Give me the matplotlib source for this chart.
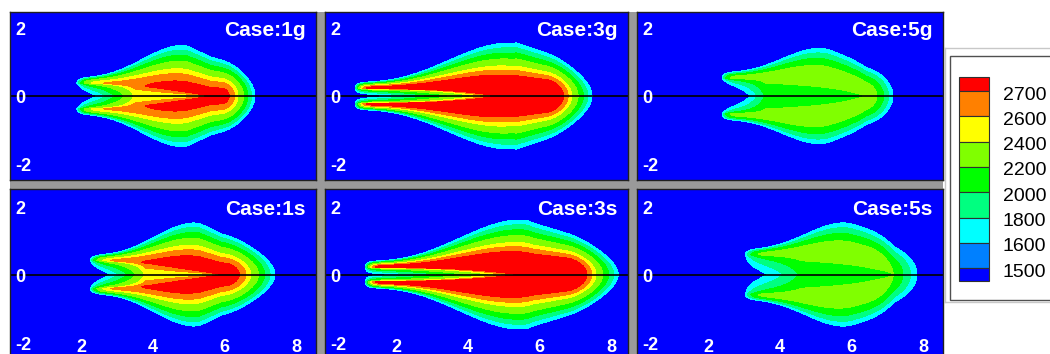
import numpy as np
import matplotlib
matplotlib.use("Agg")
import matplotlib.pyplot as plt
from matplotlib.patches import Rectangle

plt.rcParams['font.family'] = ['Liberation Sans', 'DejaVu Sans']

# casos: fila de arriba y fila de abajo
casos = ["1g", "3g", "5g", "1s", "3s", "5s"]

# forma de cada llama (unidades de los ejes)
x_inicio = [1.87, 0.84, 2.38, 2.24, 1.12, 3.02]   # punta izquierda de los lobulos
y_lobulo = [0.38, 0.22, 0.52, 0.41, 0.21, 0.58]   # separacion de los lobulos
p_union = [2, 3, 4, 2, 3, 4]
x_union = [5.6, 5.2, 6.4, 5.9, 5.8, 7.2]          # donde se juntan los lobulos
x_ancho = [4.95, 5.37, 5.30, 5.31, 5.65, 5.96]    # x del ancho maximo
w_max = [1.47, 1.56, 1.38, 1.50, 1.59, 1.50]      # semi-ancho maximo
x_punta = [6.85, 7.47, 7.16, 7.41, 8.20, 7.83]    # punta derecha sobre el eje
x_caida = [5.93, 6.18, 6.28, 6.01, 6.75, 6.52]    # empieza a enfriarse hacia la punta
k_cabeza = [0.30, 0.36, 0.14, 0.30, 0.32, 0.09]   # estrechamiento de la cabeza
dT_max = [1050, 1170, 790, 1090, 1190, 790]       # T maxima - 1800
f_lobulo = [0.85, 0.92, 0.90, 0.85, 0.92, 0.90]   # fraccion de dT_max en los lobulos
l_subida = [0.18, 0.12, 0.12, 0.18, 0.12, 0.20]
x_muesca = [2.43, 1.80, 3.16, 2.80, 1.82, 3.64]   # fin de la muesca azul sobre el eje
x_eje = [3.5, 4.8, 3.6, 3.8, 5.4, 4.6]
dT_eje = [830, 1000, 430, 830, 1000, 430]         # T en el eje entre lobulos - 1800

T_fondo = 1500
T_borde = 1800
niveles = [1400, 1800, 2000, 2200, 2400, 2600, 2700, 2800, 9000]
colores = ["#0000ff", "#00ffff", "#00ff80", "#00ff00", "#80ff00",
           "#ffff00", "#ff8000", "#ff0000"]

ley_colores = ["#ff0000", "#ff8000", "#ffff00", "#80ff00", "#00ff00",
               "#00ff80", "#00ffff", "#0080ff", "#0000ff"]
ley_etiquetas = ["2700", "2600", "2400", "2200", "2000", "1800", "1600", "1500"]

y_ticks = [2, 0, -2]
x_ticks = [2, 4, 6, 8]


def suave(t):
    return 3 * t**2 - 2 * t**3


def campo(i, X, Y):
    x0, c0, xm, xw = x_inicio[i], y_lobulo[i], x_union[i], x_ancho[i]
    amp, xt, xr = dT_max[i], x_punta[i], x_caida[i]
    s0 = 0.2
    p = p_union[i]
    # centro de los lobulos
    c = c0 * (1 - np.clip((X - x0) / (xm - x0), 0, 1)**p)
    cw = c0 * (1 - min(max((xw - x0) / (xm - x0), 0), 1)**p)
    s1 = w_max[i] - cw
    t = np.clip((X - x0) / (xw - x0), 0, 1)
    sig = s0 + (s1 - s0) * suave(t)**1.4
    sig = np.where(X > xw, s1 - k_cabeza[i] * (X - xw), sig)
    sig = np.maximum(sig, 0.05)
    # temperatura sobre la cresta
    sube = np.clip(1 - np.exp(-(X - x0) / l_subida[i]), -1, None)
    crece = f_lobulo[i] + (1 - f_lobulo[i]) * suave(t)
    baja = 1 - (np.clip(X - xr, 0, None) / (xt - xr))**2
    A = amp * sube * crece * baja
    Tr = T_borde + A
    # temperatura en el eje entre los lobulos
    Tax = T_borde + dT_eje[i] * np.minimum((X - x_muesca[i]) / (x_eje[i] - x_muesca[i]), 1)
    Tax = np.minimum(Tax, Tr)
    d = np.abs(Y) - c
    fuera = Tr - amp * (d / sig)**2
    u = np.clip(1 - np.abs(Y) / np.maximum(c, 1e-6), 0, 1)
    dentro = Tr - (Tr - Tax) * u**0.6
    T = np.where(d >= 0, fuera, dentro)
    return np.maximum(T, T_fondo)


W, H = 1050, 354
fig = plt.figure(figsize=(W / 100, H / 100), dpi=100)

fondo = fig.add_axes([0, 0, 1, 1])
fondo.set_xlim(0, W)
fondo.set_ylim(H, 0)
fondo.axis('off')
fondo.add_patch(Rectangle((10, 12), 933, 350, color='#9a9a9a', lw=0))

cols = [(10, 316), (325, 628), (637, 943)]
filas = [(12, 180), (189, 360)]
px_x, px_y = 35.75, 34.0

xs = np.linspace(0, 8.7, 900)
ys = np.linspace(-2.6, 2.6, 500)
X, Y = np.meshgrid(xs, ys)

blanco = dict(color='white', fontsize=13, fontweight='bold')

for i, caso in enumerate(casos):
    f, c = divmod(i, 3)
    x1, x2 = cols[c]
    y1, y2 = filas[f]
    ax = fig.add_axes([x1 / W, 1 - y2 / H, (x2 - x1) / W, (y2 - y1) / H])
    xmax = (x2 - x1) / px_x
    yh = (y2 - y1) / 2 / px_y
    ax.contourf(X, Y, campo(i, X, Y), levels=niveles, colors=colores)
    ax.axhline(0, color='black', lw=1.2)
    ax.set_xlim(0, xmax)
    ax.set_ylim(-yh, yh)
    ax.set_xticks([])
    ax.set_yticks([])
    for sp in ax.spines.values():
        sp.set_color('#202020')
        sp.set_linewidth(1)
    for v in y_ticks:
        ax.text(0.15, v - 0.22, str(v), ha='left', va='baseline', **blanco)
    if f == 1:
        for v in x_ticks:
            ax.text(v, -2.28, str(v), ha='center', va='baseline', **blanco)
    ax.text(xmax - 0.3, 1.76, "Case:" + caso, ha='right', va='baseline',
            color='white', fontsize=15, fontweight='bold')

# leyenda
fondo.plot([945, 945], [48, 302], color='#c8c8c8', lw=1)
fondo.plot([945, W], [48, 48], color='#c8c8c8', lw=1)
fondo.plot([945, W], [302, 302], color='#c8c8c8', lw=1)
fondo.add_patch(Rectangle((950, 56), 120, 244, facecolor='white',
                          edgecolor='#505050', lw=1))
alto = [14] + [25.3] * 7 + [13]
y = 77
for j, col in enumerate(ley_colores):
    fondo.add_patch(Rectangle((959, y), 30, alto[j], facecolor=col,
                              edgecolor='#303030', lw=0.8))
    y += alto[j]
    if j < len(ley_etiquetas):
        fondo.text(1003, y + 4, ley_etiquetas[j], ha='left', va='center',
                   fontsize=14, color='black')

fig.savefig("out.png", dpi=100)
